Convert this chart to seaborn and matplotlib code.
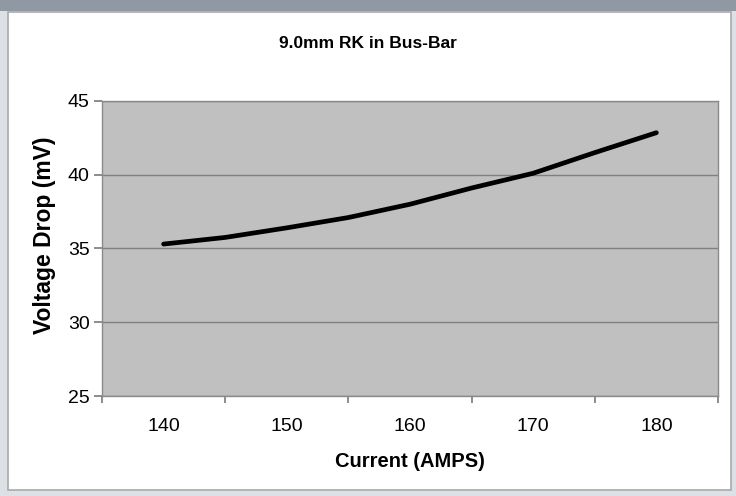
import numpy as np
import pandas as pd
import seaborn as sns
from matplotlib import pyplot as plt
from matplotlib.patches import Rectangle

# values
current = [140, 145, 150, 155, 160, 165, 170, 175, 180]
voltage = [35.3, 35.75, 36.4, 37.1, 38.0, 39.1, 40.1, 41.5, 42.85]

df = pd.DataFrame({"Current (AMPS)": current, "Voltage Drop (mV)": voltage})

sns.set_theme(style="ticks")
plt.rcParams['font.family'] = ['Liberation Sans', 'DejaVu Sans']
plt.rcParams['text.color'] = 'black'
plt.rcParams['axes.labelcolor'] = 'black'
plt.rcParams['xtick.labelcolor'] = 'black'
plt.rcParams['ytick.labelcolor'] = 'black'

fig = plt.figure(figsize=(7.36, 4.96), dpi=100, facecolor='#dde1e6')
# window band at top and white chart area, behind the axes
fig.patches.append(Rectangle((0, 0.978), 1, 0.022, transform=fig.transFigure,
                             facecolor='#8f98a3', edgecolor='none', zorder=-2))
fig.patches.append(Rectangle((0.011, 0.012), 0.982, 0.963, transform=fig.transFigure,
                             facecolor='white', edgecolor='#a9a9a9', linewidth=1.2, zorder=-1))

ax = fig.add_axes([0.1386, 0.2016, 0.8369, 0.5948])
ax.set_facecolor('#c0c0c0')

sns.lineplot(data=df, x="Current (AMPS)", y="Voltage Drop (mV)", ax=ax,
             color='black', linewidth=3.4, solid_capstyle='round')

ax.set_xlim(135, 185)
ax.set_ylim(25, 45)
ax.set_yticks([25, 30, 35, 40, 45])
ax.yaxis.grid(True, color='#7f7f7f', linewidth=1)
ax.set_axisbelow(True)

# tick marks between labels, like the category axis of the original
ax.set_xticks([135, 145, 155, 165, 175, 185])
ax.set_xticklabels([])
ax.set_xticks([140, 150, 160, 170, 180], minor=True)
ax.set_xticklabels(['140', '150', '160', '170', '180'], minor=True)
ax.tick_params(axis='x', which='minor', length=0, pad=16, labelsize=14)
ax.tick_params(axis='x', which='major', length=5, color='#7f7f7f')
ax.tick_params(axis='y', length=6, color='#7f7f7f', labelsize=14, pad=3)

for s in ax.spines.values():
    s.set_color('#8a8a8a')
    s.set_linewidth(1)

ax.set_xlabel("Current (AMPS)", fontsize=14.5, fontweight='bold', labelpad=12)
ax.set_ylabel("Voltage Drop (mV)", fontsize=16.5, fontweight='bold')
ax.yaxis.set_label_coords(-0.075, 0.546)

fig.text(0.5, 0.912, "9.0mm RK in Bus-Bar", ha='center', va='center',
         fontsize=12.5, fontweight='bold')

plt.savefig('out.png', dpi=100, facecolor=fig.get_facecolor())
